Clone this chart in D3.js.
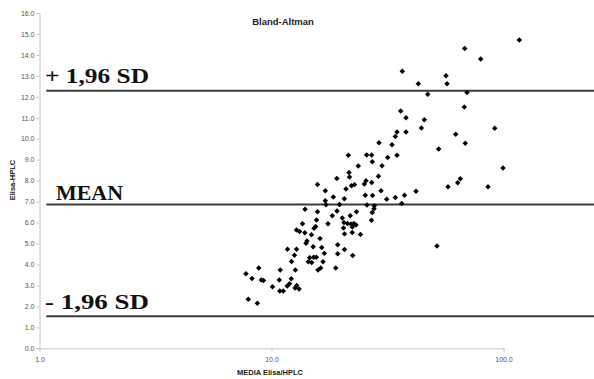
<!DOCTYPE html>
<html>
<head>
<meta charset="utf-8">
<script src="https://cdn.jsdelivr.net/npm/d3@7/dist/d3.min.js"></script>
<style>
  body { margin: 0; background: #fff; }
  svg { display: block; }
</style>
</head>
<body>
<script>
// Bland-Altman: mean of Elisa/HPLC (log) vs difference Elisa-HPLC
const meanValues = [
  117.0, 68.05, 79.74, 36.63, 56.52, 42.93, 57.09, 47.14, 69.62, 67.76,
  36.05, 37.99, 45.57, 44.24, 91.65, 34.75, 37.99, 34.17, 62.23, 29.07,
  33.07, 68.44, 52.56, 31.69, 34.75, 21.43, 25.72, 27.03, 27.20, 23.66,
  29.95, 99.5, 65.14, 63.48, 57.66, 85.75, 28.92, 21.58, 21.69, 19.12,
  25.54, 29.65, 31.37, 34.17, 37.44, 41.96, 36.41, 15.78, 17.06, 18.47,
  20.95, 22.12, 22.79, 25.12, 27.03, 25.37, 27.25, 20.60, 17.06, 17.18,
  19.64, 25.80, 27.74, 13.95, 15.78, 19.16, 23.25, 18.29, 20.20, 21.84,
  27.20, 26.98, 27.66, 15.63, 17.52, 13.60, 12.82, 13.21, 13.92, 15.50,
  15.25, 20.54, 21.27, 22.02, 22.63, 23.13, 20.43, 22.30, 20.64, 22.28,
  24.19, 14.87, 16.18, 14.22, 14.09, 15.12, 16.47, 11.72, 12.82, 19.29,
  19.29, 20.64, 22.39, 16.89, 12.56, 12.20, 14.61, 15.20, 15.60, 14.41,
  14.90, 16.67, 12.67, 16.30, 15.86, 18.92, 10.91, 8.81, 7.76, 8.24,
  9.04, 9.24, 10.80, 12.17, 10.10, 10.86, 11.24, 11.69, 11.96, 12.85,
  12.63, 13.14, 7.94, 8.69, 51.69
];
const diffValues = [
  14.71, 14.31, 13.80, 13.22, 13.01, 12.62, 12.62, 12.12, 12.21, 11.51,
  11.32, 11.00, 10.91, 10.51, 10.50, 10.32, 10.32, 10.11, 10.21, 9.81,
  9.71, 9.79, 9.51, 9.11, 9.21, 9.21, 9.22, 9.22, 8.90, 8.70,
  8.71, 8.60, 8.09, 7.90, 7.71, 7.71, 8.21, 8.39, 8.17, 8.10,
  8.00, 7.52, 7.11, 7.20, 7.30, 7.49, 6.91, 7.82, 7.52, 7.22,
  7.60, 7.76, 7.81, 7.84, 7.91, 7.30, 7.29, 7.14, 7.04, 6.85,
  6.86, 6.84, 6.80, 6.63, 6.52, 6.55, 6.52, 6.33, 6.22, 6.33,
  6.48, 6.11, 6.66, 6.12, 5.94, 5.94, 5.64, 5.57, 5.51, 5.81,
  5.73, 6.00, 5.96, 5.93, 5.95, 5.88, 5.74, 5.79, 5.46, 5.53,
  5.43, 5.42, 5.24, 5.12, 5.01, 4.85, 4.81, 4.73, 4.73, 4.94,
  4.51, 4.72, 4.43, 4.53, 4.44, 4.14, 4.32, 4.34, 4.34, 4.13,
  4.09, 4.13, 3.74, 3.83, 3.74, 3.83, 3.74, 3.83, 3.56, 3.33,
  3.26, 3.23, 3.26, 3.32, 2.94, 2.73, 2.73, 2.97, 3.08, 3.00,
  2.88, 2.83, 2.34, 2.15, 4.88
];
const limitLabels = ["+ 1,96 SD", "MEAN", "- 1,96 SD"];
const limitValues = [12.29, 6.86, 1.53];
const yTicks = d3.range(0, 17, 1);
const xTicks = [1, 10, 100];

const width = 594;
const height = 379;

const x = d3.scaleLog().domain([1, 100]).range([39.5, 503.5]);
const y = d3.scaleLinear().domain([0, 16]).range([348.3, 13]);

const svg = d3.select("body").append("svg")
  .attr("width", width)
  .attr("height", height);

// y axis
const yAxis = svg.append("g")
  .attr("transform", `translate(${x(1)},0)`)
  .call(d3.axisLeft(y).tickValues(yTicks).tickFormat(d3.format(".1f")).tickSize(3).tickPadding(2));
yAxis.select(".domain").attr("stroke", "#c8c8c8");
yAxis.selectAll(".tick line").attr("stroke", "#c8c8c8");
yAxis.selectAll(".tick text")
  .attr("fill", "#555")
  .style("font-family", "Arial, 'Liberation Sans', sans-serif")
  .style("font-size", "7px");

// x axis
const xAxis = svg.append("g")
  .attr("transform", `translate(0,${y(0)})`)
  .call(d3.axisBottom(x).tickValues(xTicks).tickFormat(d3.format(".1f")).tickSize(3).tickPadding(6));
xAxis.select(".domain").attr("stroke", "#c8c8c8");
xAxis.selectAll(".tick line").attr("stroke", "#c8c8c8");
xAxis.selectAll(".tick text")
  .attr("fill", "#555")
  .style("font-family", "Arial, 'Liberation Sans', sans-serif")
  .style("font-size", "7px");

// limit lines
svg.selectAll("line.limit")
  .data(limitValues)
  .enter()
  .append("line")
  .attr("class", "limit")
  .attr("x1", x(1.07))
  .attr("x2", width)
  .attr("y1", d => y(d))
  .attr("y2", d => y(d))
  .attr("stroke", "#3a3a3a")
  .attr("stroke-width", 2);

// limit labels
const labelOffsets = [8, 5, 7];
const labelX = [45, 56, 45];
const labelLen = [104, 67, 104];
svg.selectAll("text.limit")
  .data(limitLabels)
  .enter()
  .append("text")
  .attr("class", "limit")
  .attr("x", (d, i) => labelX[i])
  .attr("y", (d, i) => y(limitValues[i]) - labelOffsets[i])
  .attr("textLength", (d, i) => labelLen[i])
  .attr("lengthAdjust", "spacingAndGlyphs")
  .style("font-family", "'Liberation Serif', 'Times New Roman', serif")
  .style("font-weight", "bold")
  .style("font-size", "20px")
  .attr("fill", "#111")
  .text(d => d);

// points
const points = meanValues.map((m, i) => ({ m: m, d: diffValues[i] }));
svg.selectAll("path.pt")
  .data(points)
  .enter()
  .append("path")
  .attr("class", "pt")
  .attr("d", d3.symbol().type(d3.symbolSquare).size(15))
  .attr("transform", d => `translate(${x(d.m)},${y(d.d)}) rotate(45)`)
  .attr("fill", "#000");

// title
svg.append("text")
  .attr("x", 283)
  .attr("y", 25)
  .attr("text-anchor", "middle")
  .style("font-family", "Arial, 'Liberation Sans', sans-serif")
  .style("font-weight", "bold")
  .style("font-size", "9.5px")
  .attr("fill", "#222")
  .text("Bland-Altman");

// axis titles
svg.append("text")
  .attr("x", 270)
  .attr("y", 375)
  .attr("text-anchor", "middle")
  .style("font-family", "Arial, 'Liberation Sans', sans-serif")
  .style("font-weight", "bold")
  .style("font-size", "7.5px")
  .attr("fill", "#222")
  .text("MEDIA Elisa/HPLC");

svg.append("text")
  .attr("transform", "translate(15,180) rotate(-90)")
  .attr("text-anchor", "middle")
  .style("font-family", "Arial, 'Liberation Sans', sans-serif")
  .style("font-weight", "bold")
  .style("font-size", "7.5px")
  .attr("fill", "#222")
  .text("Elisa-HPLC");
</script>
</body>
</html>
